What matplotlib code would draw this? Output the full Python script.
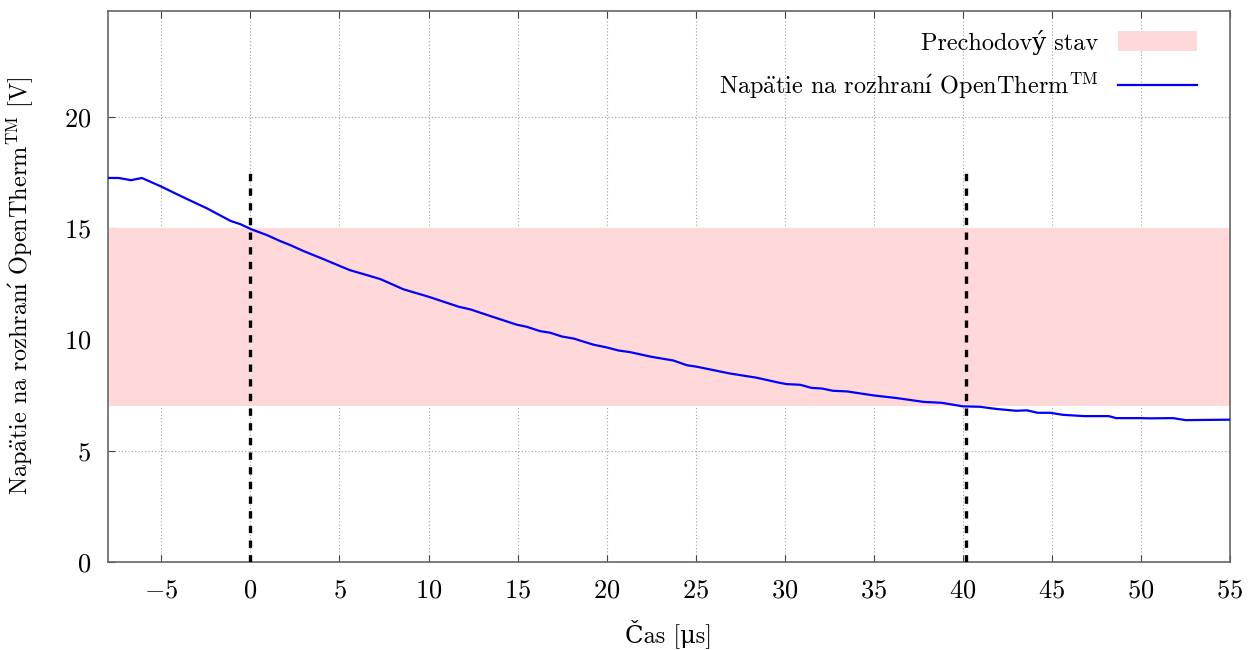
import matplotlib
matplotlib.use("Agg")
import matplotlib.pyplot as plt
from matplotlib.patches import Patch
from matplotlib.lines import Line2D

plt.rcParams['font.family'] = ['cmr10', 'DejaVu Serif']
plt.rcParams['mathtext.fontset'] = 'cm'
plt.rcParams['axes.formatter.use_mathtext'] = True

# meraný priebeh napätia
cas = [-8.0, -7.4, -6.7, -6.1, -5.05, -3.74, -2.43, -1.12, -0.56, 0.09, 0.93,
       1.68, 2.24, 2.99, 4.1, 5.05, 5.6, 6.55, 7.3, 8.6, 10.0, 11.69, 12.35,
       13.47, 14.96, 15.5, 16.27, 16.83, 17.49, 18.14, 19.27, 20.0, 20.67,
       21.3, 22.5, 23.75, 24.5, 25.07, 26.9, 28.4, 29.7, 30.1, 30.86, 31.5,
       32.1, 32.7, 33.5, 35.0, 36.3, 37.8, 38.8, 40.0, 40.96, 41.9, 43.0,
       43.6, 44.2, 44.9, 45.6, 46.8, 48.2, 48.6, 49.95, 50.5, 51.8, 52.5, 55.0]
napatie = [17.27, 17.27, 17.17, 17.27, 16.9, 16.39, 15.9, 15.34, 15.19, 14.95,
           14.7, 14.43, 14.25, 13.98, 13.62, 13.3, 13.12, 12.9, 12.72, 12.26,
           11.93, 11.48, 11.36, 11.06, 10.67, 10.58, 10.38, 10.31, 10.14, 10.05,
           9.77, 9.65, 9.51, 9.44, 9.23, 9.06, 8.85, 8.78, 8.48, 8.29, 8.06,
           8.0, 7.97, 7.83, 7.8, 7.7, 7.67, 7.49, 7.37, 7.2, 7.16, 7.0, 6.98,
           6.88, 6.8, 6.82, 6.71, 6.71, 6.62, 6.56, 6.56, 6.47, 6.47, 6.46,
           6.47, 6.38, 6.4]

pasmo = [7, 15]          # prechodový stav
znacky = [0, 40.2]       # začiatok / koniec prechodu
vyska_znacky = 17.6

# cmr10 nema spravne a-dvojbodku, i-dlzen ani mikro -> cez mathtext akcenty
napatie_txt = (r'Nap$\ddot{\mathrm{a}}$tie na rozhran$\acute{\mathrm{ı}}$ '
               r'OpenTherm$^{\mathrm{TM}}$')
cas_txt = 'Čas [\u03bcs]'

fig = plt.figure(figsize=(12.48, 6.5), dpi=100)
ax = fig.add_axes([0.0865, 0.1354, 0.8991, 0.8484])

ax.axhspan(pasmo[0], pasmo[1], color='#ffd9d9', lw=0, zorder=1)
ax.plot(cas, napatie, color='#0000ff', lw=1.6, zorder=3)
for z in znacky:
    ax.plot([z, z], [0, vyska_znacky], color='black', lw=2.4,
            ls=(0, (2.2, 2.2)), zorder=4)

ax.set_xlim(-8, 55)
ax.set_ylim(0, 24.8)
ax.set_xticks(range(-5, 56, 5))
ax.set_yticks(range(0, 21, 5))
ax.grid(True, color='#a0a0a0', ls=(0, (1, 2)), lw=0.8)
ax.set_axisbelow(True)

for s in ax.spines.values():
    s.set_color('#666666')
    s.set_linewidth(1.2)
ax.tick_params(direction='in', top=True, right=False, length=5,
               color='#444444', labelsize=19, pad=12)

ax.set_xlabel(cas_txt, fontsize=17.5, labelpad=12)
ax.set_ylabel(napatie_txt + ' [V]', fontsize=17.5, labelpad=20)

handles = [Patch(facecolor='#ffd9d9', edgecolor='none'),
           Line2D([], [], color='#0000ff', lw=1.6)]
labels = ['Prechodový stav', napatie_txt]
ax.legend(handles, labels, loc='upper right', frameon=False, markerfirst=False,
          fontsize=17.5, handlelength=3.25, handleheight=0.9, labelspacing=0.67,
          handletextpad=0.8, bbox_to_anchor=(0.99, 1.005))

fig.savefig('out.png', dpi=100)
